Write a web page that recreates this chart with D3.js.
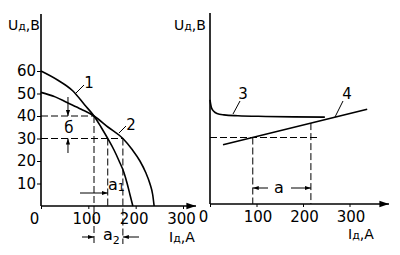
<!DOCTYPE html>
<html><head><meta charset="utf-8">
<script src="https://cdn.jsdelivr.net/npm/d3@7"></script>
<style>
body{margin:0;background:#fff}
svg{display:block}
text{font-family:"DejaVu Sans",sans-serif;fill:#000}
</style></head>
<body><svg id="c" width="400" height="255"></svg>
<script>
// ---- data ----
const xTicks = [0, 100, 200, 300];
const yTicks = [10, 20, 30, 40, 50, 60];
// left panel: external characteristics (I, U)
const curve1 = [[0,60],[35,56],[68,51],[92,45],[112,40],[127,35],[141,30],[154,25],[165,20],[175,15],[182,10],[188,5],[194,0]];
const curve2 = [[0,50.5],[30,48.5],[55,46],[85,43],[112,40],[142,35],[173,30],[193,25],[209,20],[221,15],[230,10],[236,5],[239,0]];
// right panel
const curve3 = [[0,47],[3,43.5],[8,41.8],[15,40.8],[30,40.2],[60,39.8],[120,39.5],[180,39.3],[247,39.2]];
const line4 = [[28,26.7],[338,42.7]];
const crossPt = [112,40];
const inner30 = [141,30];
const outer30 = [173,30];
const r1 = [92,30];
const r2 = [217,36.5];

const svg = d3.select("#c");
const defs = svg.append("defs");
defs.append("marker").attr("id","ah").attr("viewBox","0 0 10 10").attr("refX",10).attr("refY",5)
  .attr("markerWidth",6).attr("markerHeight",6).attr("orient","auto-start-reverse")
  .append("path").attr("d","M0,1.5L10,5L0,8.5Z").attr("fill","#000");

const xL = d3.scaleLinear().domain([0,300]).range([41,183]);
const yL = d3.scaleLinear().domain([0,60]).range([206,71]);
const xR = d3.scaleLinear().domain([0,300]).range([210,349.5]);
const yR = d3.scaleLinear().domain([0,60]).range([204,71]);

function panel(x, y, yTop, xEnd, showY, shift){
  const g = svg.append("g");
  g.append("line").attr("x1",x(0)).attr("x2",x(0)).attr("y1",y(0)).attr("y2",yTop)
    .attr("stroke","#000").attr("stroke-width",1.6);
  g.append("line").attr("x1",x(0)).attr("x2",xEnd).attr("y1",y(0)).attr("y2",y(0))
    .attr("stroke","#000").attr("stroke-width",1.6).attr("marker-end","url(#ah)");
  const ax = g.append("g").attr("transform",`translate(0,${y(0)})`)
    .call(d3.axisBottom(x).tickValues(xTicks).tickSize(3).tickPadding(4).tickFormat(d3.format("d")));
  ax.select(".domain").remove();
  ax.selectAll("text").style("font-size","15px").style("font-family","DejaVu Sans")
    .attr("dx", d => d===0 ? -7 : shift);
  ax.selectAll("line").attr("stroke","#000");
  if(showY){
    const ay = g.append("g").attr("transform",`translate(${x(0)},0)`)
      .call(d3.axisLeft(y).tickValues(yTicks).tickSize(4).tickPadding(1));
    ay.select(".domain").remove();
    ay.selectAll("text").style("font-size","15px").style("font-family","DejaVu Sans");
  }
  return g;
}
const gL = panel(xL, yL, 14, 196, true, -2);
const gR = panel(xR, yR, 13, 389, false, 1);

const lineL = d3.line().x(d=>xL(d[0])).y(d=>yL(d[1])).curve(d3.curveMonotoneX);
const lineR = d3.line().x(d=>xR(d[0])).y(d=>yR(d[1])).curve(d3.curveMonotoneX);
const solid = (g, d, gen) => g.append("path").attr("d",gen(d)).attr("fill","none").attr("stroke","#000").attr("stroke-width",1.6);
solid(gL, curve1, lineL);
solid(gL, curve2, lineL);
solid(gR, curve3, lineR);
solid(gR, line4, d3.line().x(d=>xR(d[0])).y(d=>yR(d[1])));

function dash(g, x1,y1,x2,y2){
  g.append("line").attr("x1",x1).attr("y1",y1).attr("x2",x2).attr("y2",y2)
   .attr("stroke","#000").attr("stroke-width",1).attr("stroke-dasharray","7,3");
}
function arrow(g, x1,y1,x2,y2){
  g.append("line").attr("x1",x1).attr("y1",y1).attr("x2",x2).attr("y2",y2)
   .attr("stroke","#000").attr("stroke-width",1).attr("marker-end","url(#ah)");
}
function thin(g,x1,y1,x2,y2){
  g.append("line").attr("x1",x1).attr("y1",y1).attr("x2",x2).attr("y2",y2)
   .attr("stroke","#000").attr("stroke-width",1);
}
function txt(g, x, y, s, size, anchor){
  return g.append("text").attr("x",x).attr("y",y).attr("text-anchor",anchor||"middle")
   .style("font-size",size+"px").text(s);
}

// left dashed constructions
dash(gL, xL(0), yL(crossPt[1]), xL(crossPt[0]), yL(crossPt[1]));
dash(gL, xL(0), yL(outer30[1]), xL(outer30[0]), yL(outer30[1]));
dash(gL, xL(crossPt[0]), yL(crossPt[1]), xL(crossPt[0]), 244);
dash(gL, xL(inner30[0]), yL(inner30[1]), xL(inner30[0]), yL(0));
dash(gL, xL(outer30[0]), yL(outer30[1]), xL(outer30[0]), 244);

// b markers
arrow(gL, xL(57), 97, xL(57), yL(40));
arrow(gL, xL(57), 153, xL(57), yL(30));
txt(gL, xL(57)+1, 133, "б", 15);

// a1
arrow(gL, 80, 193, xL(inner30[0]), 193);
const a1 = txt(gL, 108, 190, "a", 16, "start");
a1.append("tspan").attr("dy",1).style("font-size","11px").text("1");
// a2
arrow(gL, 82, 237, xL(crossPt[0]), 237);
arrow(gL, 139, 237, xL(outer30[0]), 237);
const a2 = txt(gL, 103, 240, "a", 16, "start");
a2.append("tspan").attr("dy",4).style("font-size","11px").text("2");

// curve labels left
txt(gL, 89, 88, "1", 15);
thin(gL, 84, 85, 75, 94);
txt(gL, 131, 130, "2", 15);
thin(gL, 126, 126, 119, 133);

// axis titles
function uLabel(g, x, y){
  const t = g.append("text").attr("x",x).attr("y",y).style("font-size","14px");
  t.append("tspan").text("U");
  t.append("tspan").style("font-size","11px").text("д");
  t.append("tspan").text(",B");
}
function iLabel(g, x, y){
  const t = g.append("text").attr("x",x).attr("y",y).style("font-size","14px");
  t.append("tspan").text("I");
  t.append("tspan").style("font-size","11px").text("д");
  t.append("tspan").text(",A");
}
uLabel(gL, 8, 30);
iLabel(gL, 169, 242);
uLabel(gR, 174, 30);
iLabel(gR, 348, 239);

// right dashed constructions
dash(gR, xR(0), yR(30), xR(232), yR(30));
dash(gR, xR(r1[0]), yR(r1[1]), xR(r1[0]), yR(0));
dash(gR, xR(r2[0]), yR(r2[1]), xR(r2[0]), yR(0));
arrow(gR, 268, 188, xR(r1[0]), 188);
arrow(gR, 291, 188, xR(r2[0]), 188);
txt(gR, 279, 193, "a", 16);

// curve labels right
txt(gR, 243, 99, "3", 15);
thin(gR, 240, 101, 233, 114);
txt(gR, 347, 99, "4", 15);
thin(gR, 343, 101, 335, 117);
</script></body></html>
